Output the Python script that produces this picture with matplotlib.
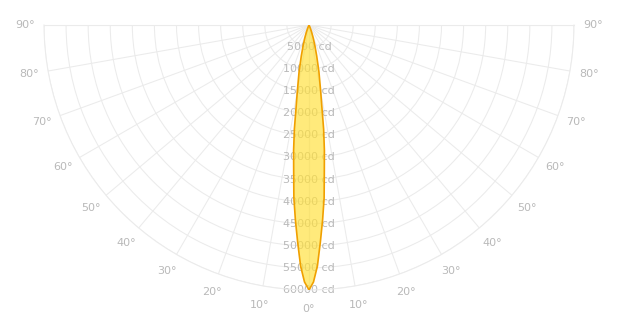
import matplotlib

matplotlib.use("Agg")
import matplotlib.pyplot as plt
import numpy as np

# luminous intensity distribution (symmetric beam), degrees -> cd
angles_deg = [0, 1, 2, 3, 4, 5, 6, 7, 8, 9, 10, 12, 14, 16, 18, 20, 22, 25, 30]
intensity_cd = [60000, 58200, 54600, 49200, 44200, 39300, 33200, 28600, 23800,
                18500, 15200, 10800, 7200, 4800, 3000, 1800, 900, 300, 0]

ring_values = list(range(5000, 60001, 5000))
ring_labels = [f"{v} cd" for v in ring_values]
theta_ticks = list(range(-90, 91, 10))
theta_labels = [f"{abs(t)}°" for t in theta_ticks]

GRID = "#ebebeb"
TEXT = "#b9b9b9"

W, H = 635, 336
cx, cy, R = 309, 25, 265

fig = plt.figure(figsize=(W / 100, H / 100), dpi=100)
# the half-disk gets fitted as if it were unrotated (R wide, 2R tall),
# so give the axes a 2R x 2R box centred on the visible half-disk
mid_y = H - (cy + R / 2)
ax = fig.add_axes([(cx - R) / W, (mid_y - R) / H, 2 * R / W, 2 * R / H],
                  projection="polar")
ax.set_theta_zero_location("S")
ax.set_thetamin(-90)
ax.set_thetamax(90)
ax.set_ylim(0, 60000)

ax.set_rgrids(ring_values, labels=[""] * len(ring_values))
ax.set_thetagrids(theta_ticks, labels=[""] * len(theta_ticks))
ax.grid(True, color=GRID, linewidth=0.75)
for sp in ax.spines.values():
    sp.set_color(GRID)
    sp.set_linewidth(0.75)

# mirror the half-curve to both sides
a = np.radians(np.array(angles_deg, dtype=float))
i = np.array(intensity_cd, dtype=float)
theta = np.concatenate([-a[::-1], a[1:]])
r = np.concatenate([i[::-1], i[1:]])
ax.fill(theta, r, facecolor="#ffe03c", alpha=0.68, edgecolor="none", zorder=3)
ax.plot(theta, r, color="#f0a000", linewidth=1.2, zorder=4)

for v, lab in zip(ring_values, ring_labels):
    ax.text(0, v, lab, ha="center", va="center", fontsize=8, color=TEXT,
            zorder=2)

for t, lab in zip(theta_ticks, theta_labels):
    ax.text(np.radians(t), 64400, lab, ha="center", va="center", fontsize=8,
            color=TEXT, clip_on=False)

fig.savefig("out.png", dpi=100)
plt.close(fig)
